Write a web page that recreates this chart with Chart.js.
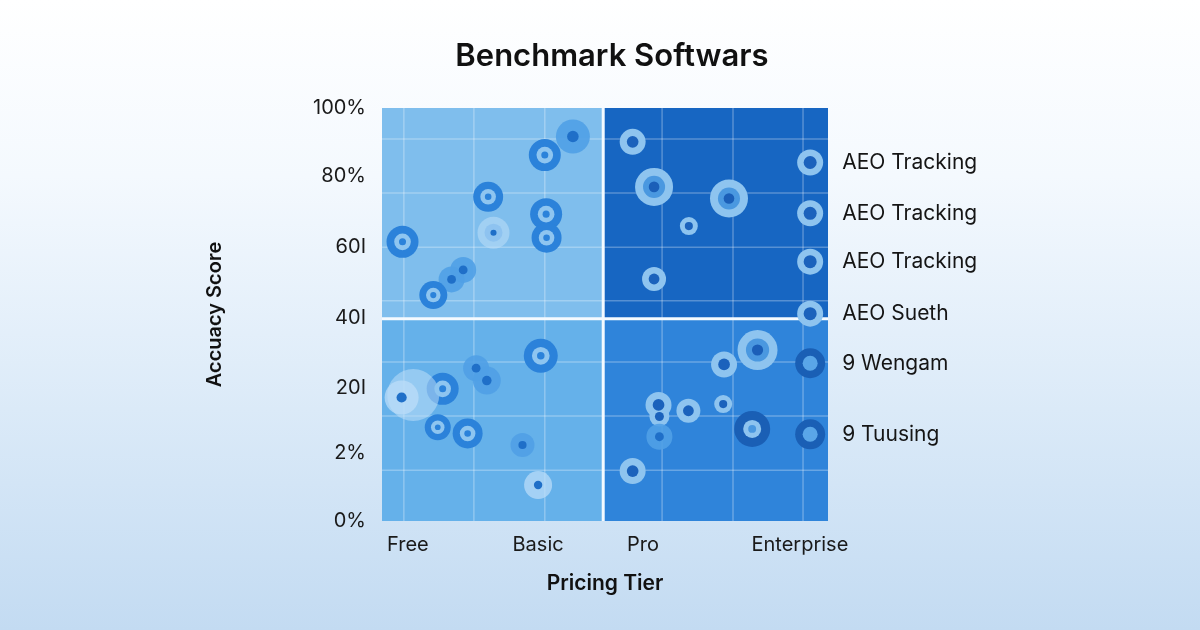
<!DOCTYPE html>
<html>
<head>
<meta charset="utf-8">
<script src="https://cdn.jsdelivr.net/npm/chart.js@4.4.1/dist/chart.umd.min.js"></script>
<style>
  html, body { margin: 0; padding: 0; }
  body {
    width: 1200px; height: 630px; overflow: hidden;
    background: linear-gradient(180deg, #ffffff 0%, #f4f9fe 28%, #dbeaf8 65%, #c3dbf2 100%);
  }
</style>
</head>
<body>
<canvas id="chart" width="1200" height="630"></canvas>
<script>
// ================= DATA =================
const chartTitle = "Benchmark Softwars";

const tierLabels = ["Free", "Basic", "Pro", "Enterprise"];
const tierTicks = [5.8, 35, 58.5, 93.7];

const scoreLabels = ["0%", "2%", "20I", "40I", "60I", "80%", "100%"];
const scoreTicks = [0, 16.5, 32.2, 49.2, 66.3, 83.5, 100];

// free / basic tools (ringed)
const ringX = [4.6, 11.5, 23.8, 36.5, 36.8, 36.9, 13.6, 35.6, 12.5, 19.2];
const ringY = [67.6, 54.7, 78.5, 88.6, 74.3, 68.6, 32.0, 40.0, 22.7, 21.2];
const ringR = [16, 14, 15, 16, 16, 15, 16, 17, 13, 15];

// soft markers
const softX = [15.6, 18.2, 42.8, 21.1, 23.5, 31.5, 25.0, 62.2];
const softY = [58.5, 60.8, 93.1, 37.0, 34.0, 18.4, 69.8, 20.4];
const softR = [13, 13, 17, 13, 14, 12, 9, 13];

// faded markers
const fadeX = [4.4, 35.0];
const fadeY = [29.9, 8.7];
const fadeR = [17, 14];

// glow halos
const glowX = [7.0, 25.0];
const glowY = [30.5, 69.8];
const glowR = [26, 16];

// pro / enterprise tools
const lightX = [56.2, 68.8, 61.0, 76.7, 62.0, 68.7, 76.5, 56.2, 62.2];
const lightY = [91.8, 71.4, 58.6, 37.9, 28.1, 26.7, 28.3, 12.1, 25.3];
const lightR = [13, 9, 12, 13, 13, 12, 9, 13, 10];

const bigX = [61.0, 77.8, 84.2];
const bigY = [80.9, 78.1, 41.4];
const bigR = [19, 19, 20];

const darkX = [83.0];
const darkY = [22.3];
const darkR = [18];

// legend
const legendLabels = ["AEO Tracking", "AEO Tracking", "AEO Tracking", "AEO Sueth", "9 Wengam", "9 Tuusing"];
const legendX = [96, 96, 96, 96, 96, 96];
const legendY = [86.8, 74.5, 62.8, 50.2, 38.2, 21.0];
const legendR = [13, 13, 13, 13, 15, 15];

// quadrant split + grid
const X_SPLIT = 49.6;
const Y_SPLIT = 49;
const gridX = [4.9, 20.6, 36.5, 62.8, 78.7, 94.4];
const gridY = [12.3, 25.4, 38.5, 53.3, 66.3, 79.4, 92.5];

// ================= DATASETS =================
function layers(name, xs, ys, rs, spec) {
  return spec.map(([f, color], k) => ({
    label: name,
    data: xs.map((x, i) => ({ x: x, y: ys[i], r: rs[i] * f })),
    backgroundColor: color,
    borderWidth: 0,
    order: 10 - k
  }));
}

let datasets = [];
datasets = datasets.concat(layers("glow", glowX, glowY, glowR, [[1, "rgba(190,222,248,0.55)"]]));
datasets = datasets.concat(layers("ring", ringX, ringY, ringR, [[1, "#2b82da"], [0.52, "#8ec5f0"], [0.22, "#2b82da"]]));
datasets = datasets.concat(layers("soft", softX, softY, softR, [[1, "rgba(80,160,230,0.9)"], [0.34, "#1f6fc8"]]));
datasets = datasets.concat(layers("fade", fadeX, fadeY, fadeR, [[1, "rgba(185,220,248,0.75)"], [0.3, "#1f6fc8"]]));
datasets = datasets.concat(layers("light", lightX, lightY, lightR, [[1, "#8ec4ef"], [0.45, "#1b62bc"]]));
datasets = datasets.concat(layers("big", bigX, bigY, bigR, [[1, "#8ec4ef"], [0.58, "#4a98e0"], [0.28, "#1b5fb8"]]));
datasets = datasets.concat(layers("dark", darkX, darkY, darkR, [[1, "#1a5fb5"], [0.5, "#8ec4ef"], [0.22, "#4a98e0"]]));

const legendOuter = {
  label: "legend",
  data: legendX.map((x, i) => ({ x: x, y: legendY[i], r: legendR[i] })),
  backgroundColor: ctx => ctx.dataIndex < 4 ? "#8ec4ef" : "#1a5fb5",
  borderWidth: 0,
  order: 10
};
const legendInner = {
  label: "legendInner",
  data: legendX.map((x, i) => ({ x: x, y: legendY[i], r: legendR[i] * 0.5 })),
  backgroundColor: ctx => ctx.dataIndex < 4 ? "#1b62bc" : "#5aa6e8",
  borderWidth: 0,
  order: 9
};
datasets.push(legendOuter, legendInner);

// ================= PLUGINS =================
const quadrants = {
  id: "quadrants",
  beforeDatasetsDraw(chart) {
    const { ctx, chartArea: a, scales: { x, y } } = chart;
    const sx = x.getPixelForValue(X_SPLIT);
    const sy = y.getPixelForValue(Y_SPLIT);
    ctx.save();
    ctx.fillStyle = "#7fbeed"; ctx.fillRect(a.left, a.top, sx - a.left, sy - a.top);
    ctx.fillStyle = "#65b1ea"; ctx.fillRect(a.left, sy, sx - a.left, a.bottom - sy);
    ctx.fillStyle = "#1766c2"; ctx.fillRect(sx, a.top, a.right - sx, sy - a.top);
    ctx.fillStyle = "#2f84da"; ctx.fillRect(sx, sy, a.right - sx, a.bottom - sy);

    ctx.strokeStyle = "rgba(255,255,255,0.28)";
    ctx.lineWidth = 1.5;
    gridX.forEach(v => {
      const px = x.getPixelForValue(v);
      ctx.beginPath(); ctx.moveTo(px, a.top); ctx.lineTo(px, a.bottom); ctx.stroke();
    });
    gridY.forEach(v => {
      const py = y.getPixelForValue(v);
      ctx.beginPath(); ctx.moveTo(a.left, py); ctx.lineTo(a.right, py); ctx.stroke();
    });

    ctx.strokeStyle = "#f4faff";
    ctx.lineWidth = 3;
    ctx.beginPath(); ctx.moveTo(sx, a.top); ctx.lineTo(sx, a.bottom); ctx.stroke();
    ctx.beginPath(); ctx.moveTo(a.left, sy); ctx.lineTo(a.right, sy); ctx.stroke();
    ctx.restore();
  }
};

const texts = {
  id: "texts",
  afterDatasetsDraw(chart) {
    const idx = chart.data.datasets.indexOf(legendOuter);
    const meta = chart.getDatasetMeta(idx);
    const ctx = chart.ctx;
    ctx.save();
    ctx.font = "21px Inter";
    ctx.fillStyle = "#151515";
    ctx.textBaseline = "middle";
    meta.data.forEach((pt, i) => {
      ctx.fillText(legendLabels[i], pt.x + 32, pt.y);
    });

    // title, centred on the page
    ctx.font = "600 31px Inter";
    ctx.fillStyle = "#111";
    ctx.textAlign = "center";
    ctx.fillText(chartTitle, 612, 57);
    ctx.restore();
  }
};

// ================= CHART =================
new Chart(document.getElementById("chart").getContext("2d"), {
  type: "bubble",
  data: { datasets },
  options: {
    responsive: false,
    animation: false,
    events: [],
    layout: { padding: { left: 190, right: 372, top: 108, bottom: 20 } },
    plugins: {
      legend: { display: false },
      tooltip: { enabled: false },
      title: { display: false }
    },
    scales: {
      x: {
        type: "linear",
        min: 0,
        max: 100,
        grid: { display: false, drawTicks: false },
        border: { display: false },
        afterBuildTicks: s => { s.ticks = tierTicks.map(v => ({ value: v })); },
        afterFit: s => { s.height = 89; },
        ticks: {
          padding: 12,
          color: "#1a1a1a",
          font: { family: "Inter", size: 20 },
          callback: (v, i) => tierLabels[i]
        },
        title: {
          display: true,
          text: "Pricing Tier",
          color: "#111",
          font: { family: "Inter", size: 21, weight: "600" },
          padding: { top: 0, bottom: 14 }
        }
      },
      y: {
        type: "linear",
        min: 0,
        max: 100,
        grid: { display: false, drawTicks: false },
        border: { display: false },
        afterBuildTicks: s => { s.ticks = scoreTicks.map(v => ({ value: v })); },
        afterFit: s => { s.width = 192; },
        ticks: {
          padding: 16,
          color: "#1a1a1a",
          font: { family: "Inter", size: 20 },
          callback: (v, i) => scoreLabels[i]
        },
        title: {
          display: true,
          text: "Accuacy Score",
          color: "#111",
          font: { family: "Inter", size: 20, weight: "600" },
          padding: { top: 13, bottom: 0 }
        }
      }
    }
  },
  plugins: [quadrants, texts]
});
</script>
</body>
</html>
